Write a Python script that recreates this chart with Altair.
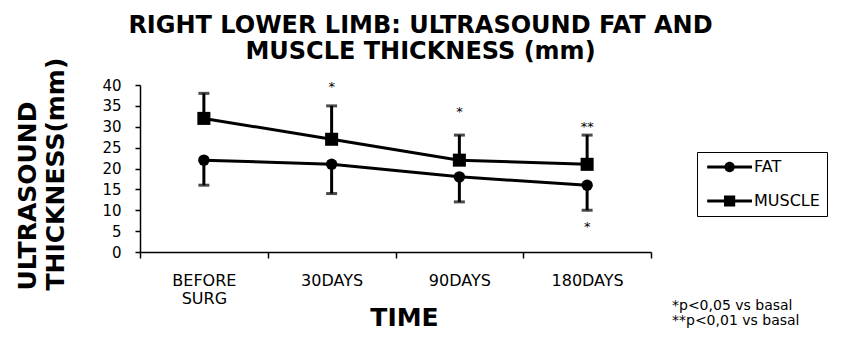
import altair as alt
import pandas as pd

categories = ["BEFORE SURG", "30DAYS", "90DAYS", "180DAYS"]
series = ["FAT", "MUSCLE"]
fat_mean = [22, 21, 18, 16]
fat_sd = [6, 7, 6, 6]
muscle_mean = [32, 27, 22, 21]
muscle_sd = [6, 8, 6, 7]

star_time = ["30DAYS", "90DAYS", "180DAYS", "180DAYS"]
star_y = [40.5, 34.5, 31, 7]
star_text = ["*", "*", "**", "*"]

title_lines = ["RIGHT LOWER LIMB: ULTRASOUND FAT AND", "MUSCLE THICKNESS (mm)"]
y_title = ["ULTRASOUND", "THICKNESS(mm)"]
x_title = "TIME"
notes = ["*p<0,05 vs basal", "**p<0,01 vs basal"]

FONT = "DejaVu Sans"

rows = []
for i, c in enumerate(categories):
    rows.append({"time": c, "series": "FAT", "mean": fat_mean[i], "end": fat_mean[i] - fat_sd[i]})
    rows.append({"time": c, "series": "MUSCLE", "mean": muscle_mean[i], "end": muscle_mean[i] + muscle_sd[i]})
df = pd.DataFrame(rows)

stars = pd.DataFrame({"time": star_time, "y": star_y, "t": star_text})
note_df = pd.DataFrame({"note": ["\n".join(notes)]})

x_axis = alt.Axis(
    title=x_title,
    titleFont=FONT, titleFontSize=25, titleFontWeight="bold", titleColor="black",
    titleX=264, titleY=73, titleBaseline="alphabetic",
    labelAngle=0, labelFont=FONT, labelFontSize=16, labelColor="black",
    labelPadding=14, labelLineHeight=18, labelExpr="split(datum.label, ' ')",
    tickBand="extent", tickSize=6, tickColor="black", tickWidth=1.5,
    domainColor="black", domainWidth=1.5,
)
x_scale = alt.Scale(paddingInner=0, paddingOuter=0)
y_scale = alt.Scale(domain=[0, 40])
y_axis = alt.Axis(
    values=list(range(0, 41, 5)),
    title=y_title,
    titleFont=FONT, titleFontSize=25, titleFontWeight="bold", titleColor="black",
    titleAngle=270, titleAlign="left", titleBaseline="alphabetic",
    titleX=-105, titleY=205, titleLineHeight=28,
    labelFont=FONT, labelFontSize=15, labelColor="black", labelPadding=14,
    labelOverlap=False,
    tickSize=5, tickColor="black", tickWidth=1.5,
    domainColor="black", domainWidth=1.5, grid=False,
)


def X():
    return alt.X("time:N", sort=categories, scale=x_scale, axis=x_axis)


def Y(field):
    return alt.Y(field, scale=y_scale, axis=y_axis)


base = alt.Chart(df)

lines = base.mark_line(color="black", strokeWidth=3).encode(
    x=X(),
    y=Y("mean:Q"),
    detail="series:N",
)
rules = base.mark_rule(color="black", strokeWidth=3).encode(
    x=X(),
    y=Y("mean:Q"),
    y2="end:Q",
)
caps = base.mark_tick(color="black", thickness=3, size=11, orient="horizontal").encode(
    x=X(),
    y=Y("end:Q"),
)
points = base.mark_point(filled=True, color="black", opacity=1).encode(
    x=X(),
    y=Y("mean:Q"),
    shape=alt.Shape("series:N", scale=alt.Scale(domain=series, range=["circle", "square"]), legend=None),
    size=alt.Size("series:N", scale=alt.Scale(domain=series, range=[130, 170]), legend=None),
)

# legend glyphs: line segment + marker
fat_sym = "M-0.6,-0.19H5V0.19H-0.6Z M1.55,0A0.65,0.65 0 1 1 2.85,0A0.65,0.65 0 1 1 1.55,0Z"
mus_sym = "M-0.6,-0.19H5V0.19H-0.6Z M1.5,-0.7H2.9V0.7H1.5Z"

legend_layer = base.transform_filter("false").mark_point(filled=True, color="black", opacity=1).encode(
    x=X(),
    y=Y("mean:Q"),
    shape=alt.Shape(
        "series:N",
        scale=alt.Scale(domain=series, range=[fat_sym, mus_sym]),
        legend=alt.Legend(
            title=None, orient="none", legendX=557, legendY=67,
            strokeColor="black", padding=7,
            symbolSize=256, symbolFillColor="black", symbolStrokeWidth=0, symbolOpacity=1,
            labelFont=FONT, labelFontSize=16, labelColor="black", labelOffset=34,
            rowPadding=18,
        ),
    ),
)

star_layer = alt.Chart(stars).mark_text(font=FONT, fontSize=13, color="black", baseline="middle", dy=4).encode(
    x=X(),
    y=Y("y:Q"),
    text="t:N",
)

note_layer = alt.Chart(note_df).mark_text(
    font=FONT, fontSize=14, color="black", align="left", baseline="alphabetic",
    lineBreak="\n", lineHeight=15,
).encode(
    x=alt.value(532),
    y=alt.value(225),
    text="note:N",
)

chart = alt.layer(lines, rules, caps, points, legend_layer, star_layer, note_layer).resolve_scale(
    shape="independent"
).properties(
    width=511,
    height=167,
    autosize=alt.AutoSizeParams(type="none"),
    padding={"left": 132, "top": 77, "right": 194, "bottom": 80},
    title=alt.TitleParams(
        text=title_lines, font=FONT, fontSize=24, fontWeight="bold", color="black",
        anchor="middle", dx=25, dy=27, offset=20, lineHeight=26,
    ),
    background="white",
).configure_view(stroke=None)

chart.save("out.html", embed_options={"renderer": "svg", "actions": False})
